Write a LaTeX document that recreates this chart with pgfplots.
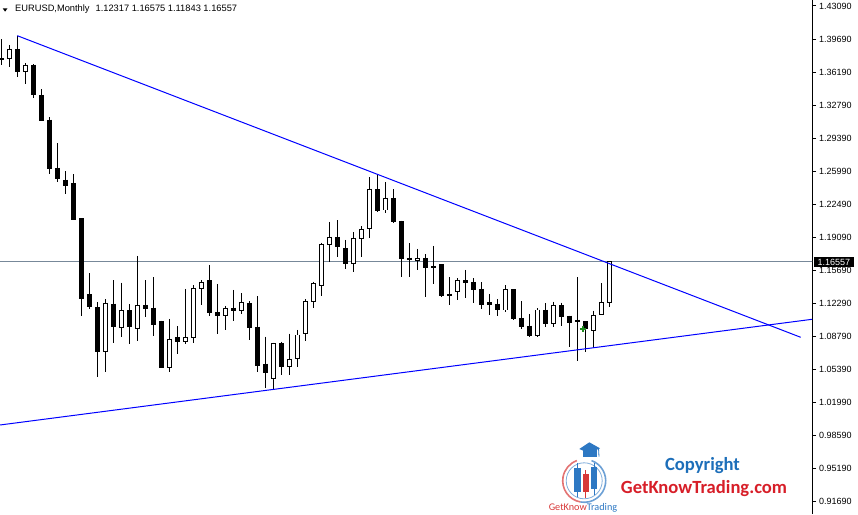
\documentclass[border=0pt]{standalone}
\usepackage{pgfplots}
\pgfplotsset{compat=1.18}
\usepackage{pgfplotstable}
\usepackage{fontspec}
\setmainfont{Liberation Sans}
\newfontfamily\logofont{Carlito}

\definecolor{pricegray}{RGB}{119,136,153}
\definecolor{mtgreen}{RGB}{30,140,30}
\definecolor{logoblue}{RGB}{45,120,195}
\definecolor{logored}{RGB}{215,55,55}
\definecolor{copyblue}{RGB}{28,110,185}
\definecolor{webred}{RGB}{215,30,40}

% EURUSD monthly, bullish months (close above open)
\pgfplotstableread{
k  o       h       l       c
1  1.3767  1.3905  1.3673  1.3860
3  1.3628  1.3715  1.3497  1.3697
13 1.0725  1.1268  1.0517  1.1227
15 1.0978  1.1440  1.0880  1.1147
17 1.0963  1.1717  1.0839  1.1206
21 1.0559  1.1064  1.0517  1.0853
23 1.0833  1.1375  1.0808  1.0874
24 1.0874  1.1416  1.0818  1.1382
25 1.1382  1.1468  1.1209  1.1444
28 1.1102  1.1199  1.0950  1.1175
30 1.1154  1.1330  1.1116  1.1237
34 1.0445  1.0818  1.0335  1.0805
36 1.0569  1.0911  1.0483  1.0646
37 1.0652  1.0950  1.0569  1.0898
38 1.0916  1.1268  1.0839  1.1247
39 1.1250  1.1451  1.1178  1.1427
40 1.1409  1.1855  1.1305  1.1838
41 1.1834  1.2070  1.1658  1.1911
44 1.1637  1.1966  1.1554  1.1901
45 1.1901  1.2028  1.1710  1.1994
46 1.2004  1.2533  1.1907  1.2409
48 1.2194  1.2481  1.2160  1.2315
52 1.1668  1.1790  1.1572  1.1693
57 1.1347  1.1486  1.1261  1.1465
63 1.1157  1.1416  1.1136  1.1372
67 1.0891  1.1175  1.0880  1.1157
69 1.1019  1.1243  1.0978  1.1206
74 1.0947  1.1150  1.0760  1.1102
75 1.1113  1.1434  1.1105  1.1232
76 1.12317 1.16575 1.11843 1.16557
}\upcandles

% bearish months (close below open)
\pgfplotstableread{
k  o       h       l       c
0  1.3760  1.3964  1.3697  1.3749
2  1.3863  1.4001  1.3576  1.3628
4  1.3697  1.3703  1.3358  1.3394
5  1.3383  1.3445  1.3112  1.3120
6  1.3127  1.3155  1.2567  1.2622
7  1.2629  1.2886  1.2481  1.2518
8  1.2505  1.2598  1.2357  1.2446
9  1.2464  1.2567  1.2090  1.2098
10 1.2101  1.2108  1.1098  1.1278
11 1.1313  1.1538  1.1171  1.1191
12 1.1181  1.1237  1.0466  1.0725
14 1.1219  1.1468  1.0818  1.0984
16 1.1147  1.1219  1.0808  1.0984
18 1.1206  1.1468  1.1088  1.1171
19 1.1178  1.1499  1.0891  1.1005
20 1.1040  1.1046  1.0553  1.0559
22 1.0874  1.0991  1.0704  1.0833
26 1.1458  1.1624  1.1095  1.1129
27 1.1133  1.1427  1.0908  1.1098
29 1.1178  1.1365  1.1043  1.1150
31 1.1227  1.1250  1.0846  1.0974
32 1.0981  1.1302  1.0514  1.0580
33 1.0597  1.0880  1.0345  1.0507
35 1.0808  1.0828  1.0483  1.0569
42 1.1911  1.2090  1.1710  1.1813
43 1.1790  1.1883  1.1579  1.1637
47 1.2409  1.2560  1.2178  1.2187
49 1.2315  1.2409  1.2056  1.2073
50 1.2073  1.2083  1.1502  1.1689
51 1.1696  1.1849  1.1502  1.1679
53 1.1693  1.1735  1.1295  1.1596
54 1.1606  1.1821  1.1427  1.1593
55 1.1624  1.1629  1.1295  1.1305
56 1.1323  1.1496  1.1212  1.1305
58 1.1458  1.1572  1.1278  1.1440
59 1.1444  1.1486  1.1233  1.1365
60 1.1372  1.1444  1.1168  1.1212
61 1.1230  1.1323  1.1108  1.1219
62 1.1219  1.1271  1.1095  1.1157
64 1.1365  1.1372  1.1053  1.1071
65 1.1071  1.1250  1.0957  1.0984
66 1.0991  1.1116  1.0880  1.0891
68 1.1157  1.1227  1.0978  1.1012
70 1.1206  1.1233  1.0991  1.1088
71 1.1095  1.1100  1.0777  1.1026
72 1.1053  1.1496  1.0632  1.1040
73 1.1036  1.1043  1.0725  1.0967
}\downcandles

\begin{document}
\begin{tikzpicture}
\path[use as bounding box] (0,0) rectangle (858pt,514pt);
\begin{axis}[
    at={(0,0)}, anchor=south west,
    scale only axis,
    width=812pt, height=514pt,
    xmin=-0.1625, xmax=101.3375,
    ymin=0.90420, ymax=1.43712,
    axis x line=none,
    axis y line*=right,
    xtick=\empty,
    ytick={1.43090,1.39663,1.36237,1.32810,1.29383,1.25957,1.22530,1.19103,
           1.15677,1.12250,1.08823,1.05397,1.01970,0.98543,0.95117,0.91690},
    yticklabels={1.43090,1.39690,1.36190,1.32790,1.29390,1.25990,1.22490,1.19090,
           1.15690,1.12290,1.08790,1.05390,1.01990,0.98590,0.95190,0.91690},
    tick align=outside,
    major tick length=4pt,
    tick style={black, line width=1pt},
    y axis line style={black, line width=1pt},
    yticklabel style={anchor=west, inner sep=3pt, text depth=0pt,
        font=\fontsize{9pt}{10pt}\selectfont},
    candle/.style={draw=none, mark=none,
        error bars/.cd, y dir=minus, y explicit, error mark=none},
]
% current price line
\addplot[pricegray, line width=1pt] coordinates {(-1,1.16557) (102,1.16557)};

% wicks
\addplot[candle, error bar style={draw=black, line width=1pt}]
    table[x=k, y=h, y error minus expr=\thisrow{h}-\thisrow{l}] {\downcandles};
\addplot[candle, error bar style={draw=black, line width=1pt}]
    table[x=k, y=h, y error minus expr=\thisrow{h}-\thisrow{l}] {\upcandles};

% bearish bodies, filled black
\addplot[candle, error bar style={draw=black, line width=5pt}]
    table[x=k, y expr=\thisrow{o}+0.0005,
          y error minus expr=\thisrow{o}-\thisrow{c}+0.001] {\downcandles};

% bullish bodies: black outline, white inside
\addplot[candle, error bar style={draw=black, line width=5pt}]
    table[x=k, y expr=\thisrow{c}+0.0005,
          y error minus expr=\thisrow{c}-\thisrow{o}+0.001] {\upcandles};
\addplot[candle, error bar style={draw=white, line width=3pt}]
    table[x=k, y expr=\thisrow{c}-0.0005,
          y error minus expr=\thisrow{c}-\thisrow{o}-0.001] {\upcandles};

% trend lines
\addplot[blue, line width=1pt] coordinates {(2.0,1.40011) (99.925,1.08741)};
\addplot[blue, line width=1pt] coordinates {(-1,0.99558) (102,1.10678)};

% trade arrow
\addplot[only marks, mark=+, mark size=3pt, mtgreen, line width=1.6pt]
    coordinates {(72.7,1.0960)};

\coordinate (lastprice) at (axis cs:101.3375,1.16557);
\end{axis}

% price tag on the scale
\node[anchor=west, fill=black, text=white, inner xsep=4.2pt, inner ysep=1.5pt,
      text height=6.5pt, text depth=0pt, font=\fontsize{9pt}{10pt}\selectfont]
      at ([xshift=1.3pt]lastprice) {1.16557};

\begin{scope}[x=1pt, y=-1pt, yshift=514pt]
% header
\fill[black] (2.7,8.3) -- (7.5,8.3) -- (5.1,11.7) -- cycle;
\node[anchor=base west, inner sep=0pt, font=\fontsize{9.3pt}{10pt}\selectfont]
    at (15,11.7) {EURUSD,Monthly\hspace*{6pt}1.12317 1.16575 1.11843 1.16557};

% logo
\draw[logored!70, line width=1.6pt] (584.2,480.8) ++(100:21.5) arc[start angle=100, end angle=250, radius=21.5];
\draw[logoblue!70, line width=1.6pt] (584.2,480.8) ++(100:21.5) arc[start angle=100, end angle=-70, radius=21.5];
\draw[logoblue!60, line width=0.8pt] (584.2,480.8) circle[radius=18];
\fill[logoblue] (579.3,449) -- (589.3,442.3) -- (600,448.3) -- (589.3,453.3) -- cycle;
\fill[logoblue] (583.3,450) rectangle (596.7,456.7);
\draw[logoblue, line width=0.8pt] (598.5,448) -- (599,456.7);
\draw[logoblue, line width=1pt] (577.3,463.3) -- (577.3,496.7);
\fill[logoblue] (574,468.3) rectangle (580.7,491.7);
\draw[logored, line width=1pt] (585.7,470) -- (585.7,498.3);
\fill[logored] (582.7,474.3) rectangle (588.7,491.7);
\draw[logoblue, line width=1pt] (594.3,463.3) -- (594.3,495);
\fill[logoblue] (591.3,466.7) rectangle (597.3,489);
\node[anchor=base, inner sep=0pt, font=\logofont\fontsize{10.2pt}{11pt}\selectfont]
    at (583,510.5) {\textcolor{logored}{GetKnow}\textcolor{logoblue}{Trading}};

\node[anchor=base, inner sep=0pt, text=copyblue, font=\logofont\bfseries\fontsize{18.6pt}{20pt}\selectfont]
    at (702.5,470.7) {Copyright};
\node[anchor=base, inner sep=0pt, text=webred, font=\logofont\bfseries\fontsize{18.6pt}{20pt}\selectfont]
    at (704,493.3) {GetKnowTrading.com};
\end{scope}
\end{tikzpicture}
\end{document}
